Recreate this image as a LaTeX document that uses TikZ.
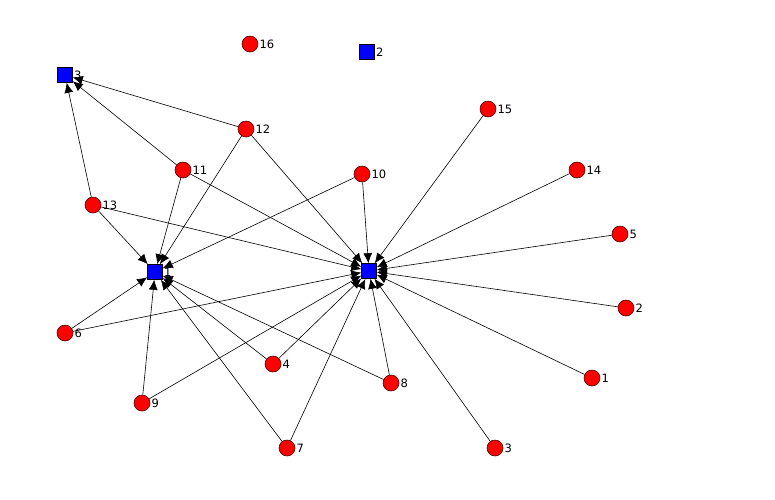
\documentclass[tikz,border=0pt]{standalone}
\usepackage{fontspec}
\setmainfont{DejaVu Sans}
\usetikzlibrary{arrows.meta}
\definecolor{nred}{RGB}{255,0,0}
\definecolor{nblue}{RGB}{0,0,255}
\tikzset{
  circ/.style={circle,draw=black!70!red,fill=nred,minimum size=16pt,inner sep=0pt,line width=0.6pt},
  sq/.style={rectangle,draw=black,fill=nblue,minimum size=15pt,inner sep=0pt,line width=0.6pt},
  lab/.style={font=\fontsize{11.5}{13}\selectfont,inner sep=1pt,text=black},
  edge/.style={draw=black,line width=0.6pt,-{Latex[length=10pt,width=9pt]}}
}
\begin{document}
\begin{tikzpicture}[x=1pt,y=-1pt]
\useasboundingbox (0,0) rectangle (775,499);
% squares
\node[sq,label={[lab]right:3}] (s3) at (65,75) {};
\node[sq,label={[lab]right:2}] (s2) at (367,52) {};
\node[sq,label={[lab]right:1}] (s1) at (155,272) {};
\node[sq,label={[lab]right:4}] (s4) at (369,271) {};
% circles
\node[circ,label={[lab]right:16}] (c16) at (250,44) {};
\node[circ,label={[lab]right:12}] (c12) at (246,129) {};
\node[circ,label={[lab]right:15}] (c15) at (488,109) {};
\node[circ,label={[lab]right:11}] (c11) at (183,170) {};
\node[circ,label={[lab]right:10}] (c10) at (362,174) {};
\node[circ,label={[lab]right:14}] (c14) at (577,170) {};
\node[circ,label={[lab]right:13}] (c13) at (93,205) {};
\node[circ,label={[lab]right:5}] (c5) at (620,234) {};
\node[circ,label={[lab]right:6}] (c6) at (65,333) {};
\node[circ,label={[lab]right:2}] (c2) at (626,308) {};
\node[circ,label={[lab]right:4}] (c4) at (273,364) {};
\node[circ,label={[lab]right:8}] (c8) at (391,383) {};
\node[circ,label={[lab]right:1}] (c1) at (592,378) {};
\node[circ,label={[lab]right:9}] (c9) at (142,403) {};
\node[circ,label={[lab]right:7}] (c7) at (287,448) {};
\node[circ,label={[lab]right:3}] (c3) at (495,448) {};
% edges
\foreach \a in {c13,c11,c12} \draw[edge] (\a) -- (s3);
\foreach \a in {c13,c11,c12,c10,c6,c9,c7,c4,c8} \draw[edge] (\a) -- (s1);
\foreach \a in {c13,c11,c12,c10,c15,c14,c5,c2,c1,c3,c8,c7,c9,c4,c6} \draw[edge] (\a) -- (s4);
\end{tikzpicture}
\end{document}
